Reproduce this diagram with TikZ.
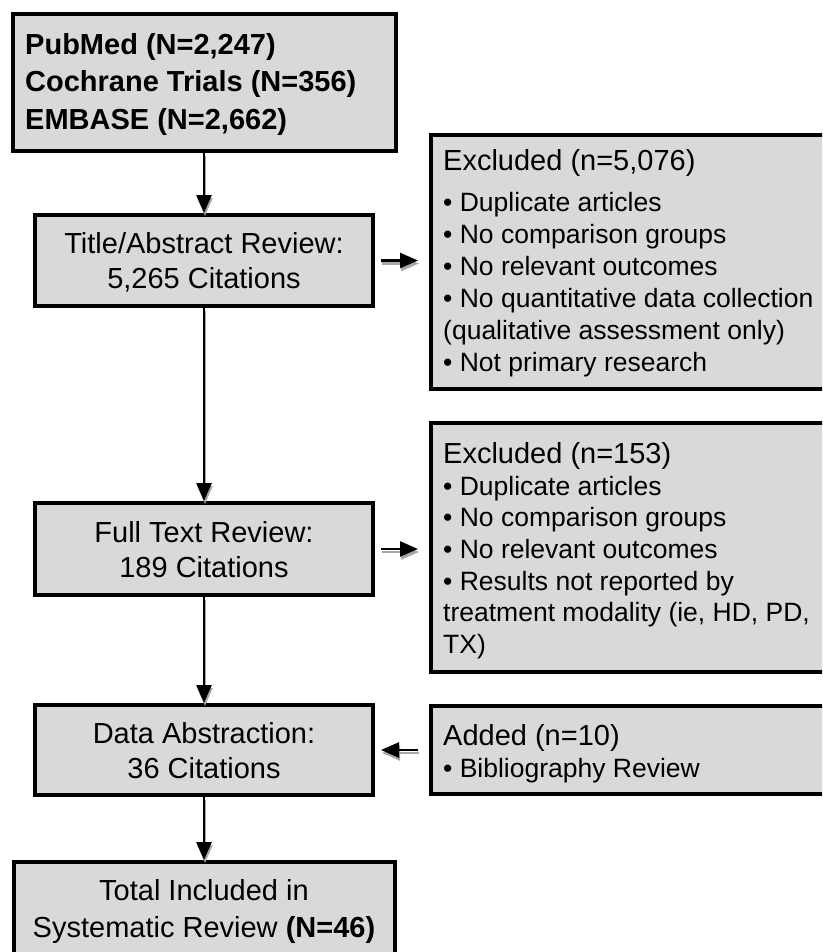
\documentclass[tikz,border=0pt]{standalone}
\usepackage{fontspec}
\setmainfont{Liberation Sans}
\usetikzlibrary{arrows.meta}
\definecolor{boxgray}{HTML}{D9D9D9}
\definecolor{shadowgray}{HTML}{A8A8A8}
\begin{document}
\begin{tikzpicture}[x=1pt,y=-1pt,
  box/.style={draw=black, line width=4pt, fill=boxgray, inner sep=0pt},
  txt/.style={font=\fontsize{29}{35}\selectfont, inner sep=0pt, anchor=base},
  ltxt/.style={txt, anchor=base west},
  btxt/.style={ltxt, font=\fontsize{29}{35}\selectfont\bfseries},
  stxt/.style={ltxt, font=\fontsize{26.5}{30}\selectfont},
  flow/.style={line width=2.5pt, -{Triangle[length=18pt,width=15pt]}},
  flowshadow/.style={flow, draw=shadowgray, fill=shadowgray, transform canvas={shift={(1pt,-3pt)}}},
]
\useasboundingbox (0,0) rectangle (822,952);
\clip (0,0) rectangle (822,952);

% boxes
\node[box, minimum width=383pt, minimum height=137pt] (src) at (204,82.5) {};
\node[box, minimum width=338pt, minimum height=91pt] (tar) at (204,260.5) {};
\node[box, minimum width=399pt, minimum height=254pt] (ex1) at (630.5,262) {};
\node[box, minimum width=338pt, minimum height=92pt] (ftr) at (204,549) {};
\node[box, minimum width=399pt, minimum height=249pt] (ex2) at (630.5,547.5) {};
\node[box, minimum width=338pt, minimum height=90pt] (dab) at (204,750) {};
\node[box, minimum width=399pt, minimum height=88pt] (add) at (630.5,750) {};
\node[box, minimum width=381pt, minimum height=108pt] (tot) at (204.5,916) {};

% texts
\node[btxt] (src1) at (25,55) {PubMed (N=2,247)};
\node[btxt] (src2) at (25,92) {Cochrane Trials (N=356)};
\node[btxt] (src3) at (25,130) {EMBASE (N=2,662)};

\node[txt] (tar1) at (204,253) {Title/Abstract Review:};
\node[txt] (tar2) at (204,288) {5,265 Citations};

\node[ltxt] (ex1a) at (443,171) {Excluded (n=5,076)};
\node[stxt] (ex1b) at (443,211) {• Duplicate articles};
\node[stxt] (ex1c) at (443,243) {• No comparison groups};
\node[stxt] (ex1d) at (443,275) {• No relevant outcomes};
\node[stxt] (ex1e) at (443,307) {• No quantitative data collection};
\node[stxt] (ex1f) at (443,339) {(qualitative assessment only)};
\node[stxt] (ex1g) at (443,371) {• Not primary research};

\node[txt] (ftr1) at (204,542) {Full Text Review:};
\node[txt] (ftr2) at (204,577) {189 Citations};

\node[ltxt] (ex2a) at (443,463) {Excluded (n=153)};
\node[stxt] (ex2b) at (443,495) {• Duplicate articles};
\node[stxt] (ex2c) at (443,526.5) {• No comparison groups};
\node[stxt] (ex2d) at (443,558) {• No relevant outcomes};
\node[stxt] (ex2e) at (443,590) {• Results not reported by};
\node[stxt] (ex2f) at (443,621.5) {treatment modality (ie, HD, PD,};
\node[stxt] (ex2g) at (443,653) {TX)};

\node[txt] (dab1) at (204,743) {Data Abstraction:};
\node[txt] (dab2) at (204,778) {36 Citations};

\node[ltxt] (add1) at (443,745) {Added (n=10)};
\node[stxt] (add2) at (443,777) {• Bibliography Review};

\node[txt] (tot1) at (204,900) {Total Included in};
\node[txt] (tot2) at (204,937) {Systematic Review \textbf{(N=46)}};

% connectors (shadow first, then arrow)
\draw[flowshadow] (src.south -| tar.north) -- (tar.north);
\draw[flow] (src.south -| tar.north) -- (tar.north);
\draw[flowshadow] (tar.south) -- (ftr.north);
\draw[flow] (tar.south) -- (ftr.north);
\draw[flowshadow] (ftr.south) -- (dab.north);
\draw[flow] (ftr.south) -- (dab.north);
\draw[flowshadow] (dab.south) -- (dab.south |- tot.north);
\draw[flow] (dab.south) -- (dab.south |- tot.north);

\draw[flowshadow] ([xshift=6pt]tar.east) -- ([xshift=-11pt]ex1.west |- tar.east);
\draw[flow] ([xshift=6pt]tar.east) -- ([xshift=-11pt]ex1.west |- tar.east);
\draw[flowshadow] ([xshift=6pt]ftr.east) -- ([xshift=-11pt]ex2.west |- ftr.east);
\draw[flow] ([xshift=6pt]ftr.east) -- ([xshift=-11pt]ex2.west |- ftr.east);
\draw[flowshadow] ([xshift=-11pt]add.west) -- ([xshift=6pt]dab.east |- add.west);
\draw[flow] ([xshift=-11pt]add.west) -- ([xshift=6pt]dab.east |- add.west);
\end{tikzpicture}
\end{document}
